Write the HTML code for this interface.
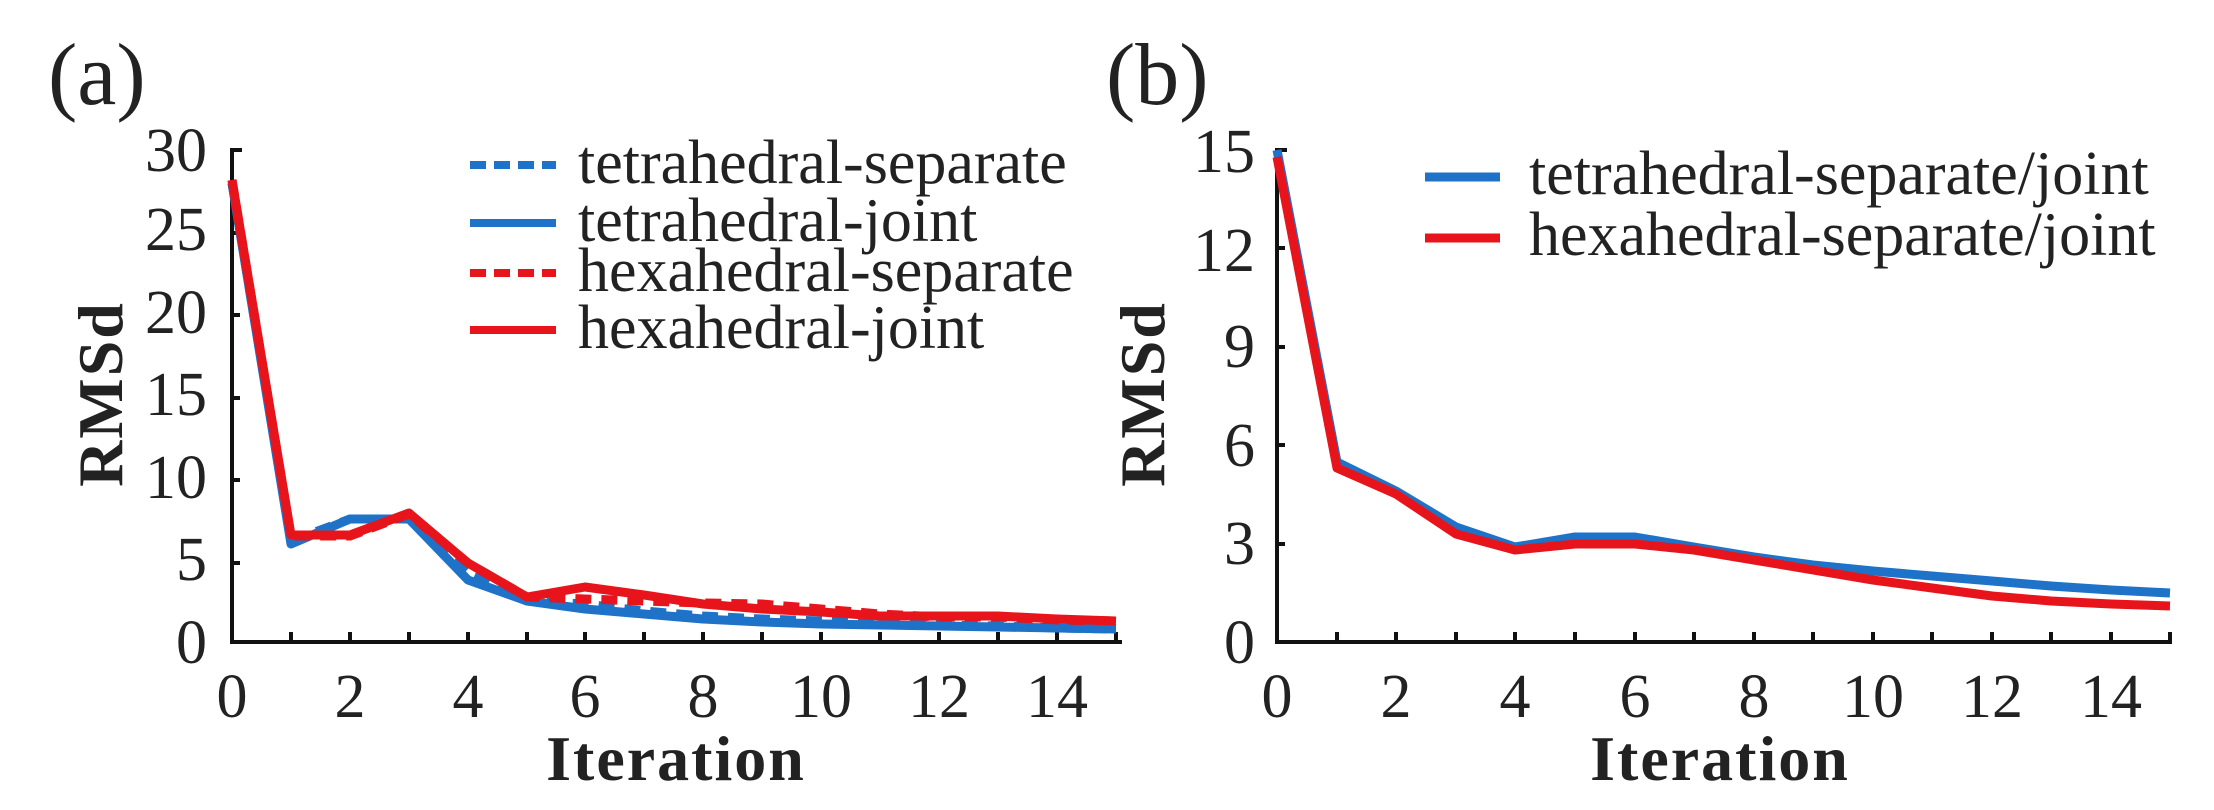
<!DOCTYPE html>
<html><head><style>body{margin:0;background:#fff}svg{display:block}</style></head>
<body>
<svg width="2214" height="810" viewBox="0 0 2214 810" xmlns="http://www.w3.org/2000/svg" font-family="Liberation Serif, serif" fill="#222">
<!-- Panel a -->
<text x="48" y="104" font-size="88">(a)</text>
<g font-size="62" text-anchor="end">
<text x="207" y="663">0</text><text x="207" y="580">5</text><text x="207" y="498">10</text>
<text x="207" y="415">15</text><text x="207" y="333">20</text><text x="207" y="250">25</text><text x="207" y="171">30</text>
</g>
<g font-size="62" text-anchor="middle">
<text x="232" y="717">0</text><text x="350" y="717">2</text><text x="468" y="717">4</text><text x="585" y="717">6</text>
<text x="703" y="717">8</text><text x="821" y="717">10</text><text x="939" y="717">12</text><text x="1057" y="717">14</text>
</g>
<text x="676" y="780" font-size="64" font-weight="bold" text-anchor="middle" letter-spacing="2">Iteration</text>
<text transform="translate(122,394) rotate(-90)" font-size="64" font-weight="bold" text-anchor="middle" letter-spacing="2">RMSd</text>
<g stroke="#111" stroke-width="4" fill="none">
<path d="M232 148 V642 H1122"/>
<path d="M232 150 H242M232 233 H240M232 315 H240M232 398 H240M232 480 H240M232 563 H240"/>
<path d="M291 642v-10M350 642v-10M409 642v-10M468 642v-10M527 642v-10M585 642v-10M644 642v-10M703 642v-10M762 642v-10M821 642v-10M880 642v-10M939 642v-10M998 642v-10M1057 642v-10M1116 642v-10"/>
</g>
<g fill="none" stroke-width="9" stroke-linejoin="round">
<polyline stroke="#1e73c8" stroke-dasharray="16,10" points="232,183 291,541 350,519 409,519 468,574 527,601 585,604 644,611 703,616 762,619 821,621 880,623 939,625 998,626 1057,628 1116,629"/>
<polyline stroke="#1e73c8" points="232,183 291,544 350,519 409,519 468,580 527,601 585,609 644,614 703,619 762,622 821,624 880,625 939,626 998,627 1057,628 1116,629"/>
<polyline stroke="#e8141c" stroke-dasharray="16,10" points="232,180 291,536 350,536 409,514 468,563 527,597 585,599 644,601 703,603 762,604 821,609 880,614 939,617 998,617 1057,620 1116,621"/>
<polyline stroke="#e8141c" points="232,180 291,535 350,535 409,513 468,563 527,597 585,587 644,595 703,604 762,609 821,612 880,616 939,616 998,616 1057,619 1116,621"/>
</g>
<g stroke-width="8">
<line x1="470" y1="165" x2="556" y2="165" stroke="#1e73c8" stroke-dasharray="16,8"/>
<line x1="470" y1="223" x2="556" y2="223" stroke="#1e73c8"/>
<line x1="470" y1="273" x2="556" y2="273" stroke="#e8141c" stroke-dasharray="16,8"/>
<line x1="470" y1="330" x2="556" y2="330" stroke="#e8141c"/>
</g>
<g font-size="62">
<text x="578" y="183">tetrahedral-separate</text>
<text x="578" y="241">tetrahedral-joint</text>
<text x="578" y="291">hexahedral-separate</text>
<text x="578" y="348">hexahedral-joint</text>
</g>
<!-- Panel b -->
<text x="1106" y="104" font-size="88">(b)</text>
<g font-size="62" text-anchor="end">
<text x="1255" y="663">0</text><text x="1255" y="564">3</text><text x="1255" y="466">6</text>
<text x="1255" y="367">9</text><text x="1255" y="271">12</text><text x="1255" y="172">15</text>
</g>
<g font-size="62" text-anchor="middle">
<text x="1277" y="717">0</text><text x="1396" y="717">2</text><text x="1515" y="717">4</text><text x="1635" y="717">6</text>
<text x="1754" y="717">8</text><text x="1873" y="717">10</text><text x="1992" y="717">12</text><text x="2111" y="717">14</text>
</g>
<text x="1720" y="780" font-size="64" font-weight="bold" text-anchor="middle" letter-spacing="2">Iteration</text>
<text transform="translate(1164,394) rotate(-90)" font-size="64" font-weight="bold" text-anchor="middle" letter-spacing="2">RMSd</text>
<g stroke="#111" stroke-width="4" fill="none">
<path d="M1277 148 V642 H2172"/>
<path d="M1277 150 H1287M1277 248 H1285M1277 347 H1285M1277 445 H1285M1277 544 H1285"/>
<path d="M1337 642v-10M1396 642v-10M1456 642v-10M1515 642v-10M1575 642v-10M1635 642v-10M1694 642v-10M1754 642v-10M1813 642v-10M1873 642v-10M1932 642v-10M1992 642v-10M2051 642v-10M2111 642v-10M2170 642v-10"/>
</g>
<g fill="none" stroke-width="9" stroke-linejoin="round">
<polyline stroke="#1e73c8" points="1277,150 1337,462 1396,491 1456,527 1515,547 1575,537 1635,537 1694,547 1754,557 1813,565 1873,571 1932,576 1992,581 2051,586 2111,590 2170,593"/>
<polyline stroke="#e8141c" points="1277,157 1337,468 1396,494 1456,534 1515,550 1575,544 1635,544 1694,550 1754,560 1813,570 1873,580 1932,588 1992,596 2051,601 2111,604 2170,606"/>
</g>
<g stroke-width="9">
<line x1="1425" y1="177" x2="1500" y2="177" stroke="#1e73c8"/>
<line x1="1425" y1="238" x2="1500" y2="238" stroke="#e8141c"/>
</g>
<g font-size="62">
<text x="1529" y="194">tetrahedral-separate/joint</text>
<text x="1529" y="255">hexahedral-separate/joint</text>
</g>
</svg>
</body></html>
